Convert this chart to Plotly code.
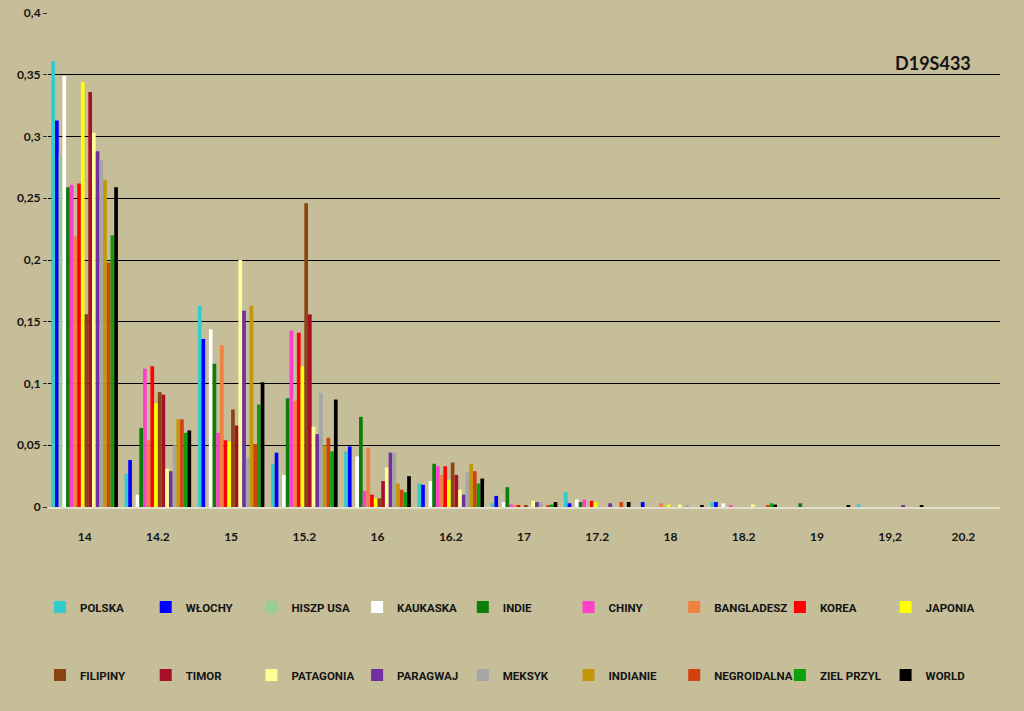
import plotly.graph_objects as go

categories = ["14", "14.2", "15", "15.2", "16", "16.2", "17", "17.2", "18", "18.2", "19", "19,2", "20.2"]

series_names = ["POLSKA", "WŁOCHY", "HISZP USA", "KAUKASKA", "INDIE", "CHINY", "BANGLADESZ", "KOREA", "JAPONIA",
                "FILIPINY", "TIMOR", "PATAGONIA", "PARAGWAJ", "MEKSYK", "INDIANIE", "NEGROIDALNA", "ZIEL PRZYL", "WORLD"]

polska      = [0.361, 0.027, 0.163, 0.035, 0.045, 0.019, 0.003, 0.012, 0.000, 0.004, 0.000, 0.002, 0.000]
wlochy      = [0.313, 0.038, 0.136, 0.044, 0.049, 0.018, 0.009, 0.003, 0.004, 0.004, 0.000, 0.000, 0.000]
hiszp_usa   = [0.285, 0.000, 0.000, 0.000, 0.000, 0.000, 0.000, 0.000, 0.000, 0.000, 0.000, 0.000, 0.000]
kaukaska    = [0.349, 0.010, 0.144, 0.026, 0.041, 0.021, 0.004, 0.006, 0.000, 0.003, 0.000, 0.000, 0.000]
indie       = [0.259, 0.064, 0.116, 0.088, 0.073, 0.035, 0.016, 0.004, 0.000, 0.000, 0.003, 0.000, 0.000]
chiny       = [0.261, 0.112, 0.060, 0.143, 0.013, 0.033, 0.002, 0.006, 0.000, 0.001, 0.000, 0.000, 0.000]
bangladesz  = [0.219, 0.054, 0.131, 0.086, 0.048, 0.026, 0.001, 0.000, 0.003, 0.000, 0.000, 0.000, 0.000]
korea       = [0.262, 0.114, 0.054, 0.141, 0.010, 0.033, 0.001, 0.005, 0.000, 0.000, 0.000, 0.000, 0.000]
japonia     = [0.344, 0.084, 0.053, 0.114, 0.007, 0.022, 0.000, 0.004, 0.002, 0.000, 0.000, 0.000, 0.000]
filipiny    = [0.156, 0.093, 0.079, 0.246, 0.007, 0.036, 0.001, 0.000, 0.000, 0.000, 0.000, 0.000, 0.000]
timor       = [0.336, 0.091, 0.066, 0.156, 0.021, 0.026, 0.000, 0.000, 0.000, 0.000, 0.000, 0.000, 0.000]
patagonia   = [0.303, 0.031, 0.200, 0.065, 0.032, 0.014, 0.005, 0.000, 0.002, 0.002, 0.000, 0.000, 0.000]
paragwaj    = [0.288, 0.029, 0.159, 0.059, 0.044, 0.010, 0.004, 0.003, 0.000, 0.000, 0.000, 0.001, 0.000]
meksyk      = [0.281, 0.050, 0.040, 0.092, 0.044, 0.028, 0.004, 0.000, 0.001, 0.000, 0.000, 0.000, 0.000]
indianie    = [0.265, 0.071, 0.163, 0.050, 0.019, 0.035, 0.000, 0.000, 0.000, 0.000, 0.000, 0.000, 0.000]
negroidalna = [0.198, 0.071, 0.051, 0.056, 0.014, 0.029, 0.001, 0.004, 0.000, 0.001, 0.000, 0.000, 0.000]
ziel_przyl  = [0.220, 0.060, 0.083, 0.045, 0.012, 0.019, 0.002, 0.000, 0.000, 0.003, 0.000, 0.000, 0.000]
world       = [0.259, 0.062, 0.101, 0.087, 0.025, 0.023, 0.004, 0.004, 0.001, 0.002, 0.001, 0.001, 0.000]

series_values = [polska, wlochy, hiszp_usa, kaukaska, indie, chiny, bangladesz, korea, japonia,
                 filipiny, timor, patagonia, paragwaj, meksyk, indianie, negroidalna, ziel_przyl, world]

series_colors = ["#33CCCC", "#0000FF", "#9CCB96", "#FFFFFF", "#0A7D0A", "#FF3FCB", "#EE8240", "#FF0000", "#FFFF00",
                 "#8B4513", "#A8102A", "#FFFF99", "#7030A0", "#A6A6A6", "#C4960A", "#D2420F", "#0CA00C", "#000000"]

bg = "#C6BD99"
font_family = "Lato, 'Open Sans', sans-serif"
legend_family = "Roboto, Lato, sans-serif"
text_color = "#141414"

fig = go.Figure()
for i, (name, vals, col) in enumerate(zip(series_names, series_values, series_colors)):
    fig.add_trace(go.Bar(
        x=categories, y=vals, name=name,
        marker=dict(color=col, line=dict(width=0)),
        legend="legend" if i < 9 else "legend2",
    ))

plot_left, plot_right, plot_top, plot_bottom = 48, 1000, 13, 507
pw = plot_right - plot_left
ph = plot_bottom - plot_top

def px_x(x):
    return (x - plot_left) / pw

def px_y(y):
    return (plot_bottom - y) / ph

legend_common = dict(
    orientation="h",
    entrywidth=60.7, entrywidthmode="pixels",
    font=dict(family=legend_family, size=11.5, color=text_color, weight="bold"),
    bgcolor="rgba(0,0,0,0)",
    xanchor="left", yanchor="middle",
    itemclick=False, itemdoubleclick=False,
)

fig.update_layout(
    width=1024, height=711,
    margin=dict(l=plot_left, r=1024 - plot_right, t=plot_top, b=711 - plot_bottom, autoexpand=False),
    paper_bgcolor=bg, plot_bgcolor=bg,
    barmode="group", bargap=0.09, bargroupgap=0.0,
    separators=",.",
    font=dict(family=font_family, size=12, color=text_color),
    legend=dict(x=px_x(40), y=px_y(607), **legend_common),
    legend2=dict(x=px_x(40), y=px_y(675), **legend_common),
    annotations=[dict(
        text="<b>D19S433</b>", x=px_x(933), y=px_y(63), xref="paper", yref="paper",
        showarrow=False, font=dict(family=font_family, size=18, color=text_color),
        xanchor="center", yanchor="middle",
    )],
)

fig.update_xaxes(
    type="category", showgrid=False, zeroline=False,
    showline=True, linecolor="#E2DECC", linewidth=2,
    ticks="", ticklabelstandoff=18,
    tickfont=dict(family=font_family, size=12, color=text_color, weight="bold"),
)
fig.update_yaxes(
    range=[0, 0.4], dtick=0.05, tick0=0,
    showgrid=True, gridcolor="#000000", gridwidth=1,
    zeroline=False, showline=False,
    ticks="outside", ticklen=4, tickcolor="#333333",
    tickfont=dict(family=font_family, size=12, color=text_color, weight="bold"),
)

fig.write_html("out.html", config={"displayModeBar": False},
               post_script="document.body.style.margin='0';")
